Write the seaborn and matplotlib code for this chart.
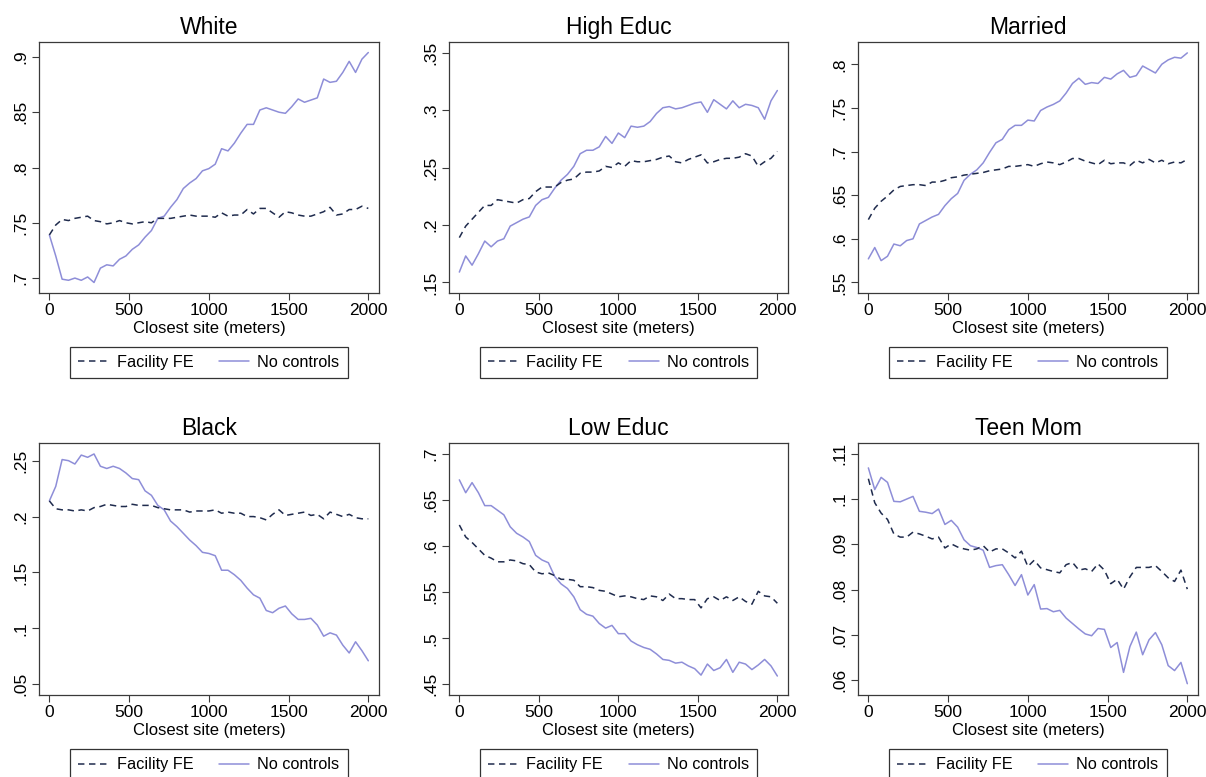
import numpy as np
import pandas as pd
import matplotlib
matplotlib.use("Agg")
import matplotlib.pyplot as plt
import seaborn as sns
from matplotlib.lines import Line2D

# ---------------- data ----------------
distance = [0, 40, 80, 120, 160, 200, 240, 280, 320, 360,
            400, 440, 480, 520, 560, 600, 640, 680, 720, 760,
            800, 840, 880, 920, 960, 1000, 1040, 1080, 1120, 1160,
            1200, 1240, 1280, 1320, 1360, 1400, 1440, 1480, 1520, 1560,
            1600, 1640, 1680, 1720, 1760, 1800, 1840, 1880, 1920, 1960,
            2000]

titles = ["White", "High Educ", "Married", "Black", "Low Educ", "Teen Mom"]
series_names = ["Facility FE", "No controls"]

white_fe = [0.739, 0.748, 0.753, 0.752, 0.754, 0.755, 0.756, 0.752, 0.751, 0.749,
            0.750, 0.752, 0.750, 0.749, 0.750, 0.751, 0.750, 0.754, 0.754, 0.754,
            0.755, 0.756, 0.757, 0.756, 0.756, 0.756, 0.755, 0.759, 0.756, 0.757,
            0.757, 0.762, 0.758, 0.763, 0.763, 0.759, 0.755, 0.760, 0.759, 0.757,
            0.756, 0.756, 0.758, 0.760, 0.764, 0.757, 0.758, 0.762, 0.762, 0.765,
            0.763]
white_nc = [0.739, 0.720, 0.699, 0.698, 0.700, 0.698, 0.701, 0.696, 0.709, 0.712,
            0.711, 0.717, 0.720, 0.726, 0.730, 0.737, 0.743, 0.754, 0.756, 0.764,
            0.771, 0.781, 0.786, 0.790, 0.797, 0.799, 0.803, 0.817, 0.815, 0.822,
            0.831, 0.839, 0.839, 0.852, 0.854, 0.852, 0.850, 0.849, 0.855, 0.862,
            0.859, 0.861, 0.863, 0.880, 0.877, 0.878, 0.886, 0.896, 0.886, 0.898,
            0.904]

high_fe = [0.189, 0.199, 0.205, 0.211, 0.217, 0.217, 0.222, 0.221, 0.220, 0.219,
           0.222, 0.223, 0.229, 0.233, 0.233, 0.233, 0.237, 0.239, 0.240, 0.245,
           0.246, 0.246, 0.247, 0.251, 0.250, 0.254, 0.251, 0.256, 0.255, 0.255,
           0.256, 0.257, 0.259, 0.260, 0.255, 0.254, 0.257, 0.259, 0.261, 0.254,
           0.255, 0.257, 0.258, 0.258, 0.259, 0.262, 0.260, 0.251, 0.255, 0.258,
           0.264]
high_nc = [0.159, 0.173, 0.165, 0.175, 0.186, 0.181, 0.186, 0.188, 0.199, 0.202,
           0.205, 0.207, 0.217, 0.222, 0.224, 0.232, 0.239, 0.244, 0.251, 0.262,
           0.265, 0.265, 0.268, 0.277, 0.271, 0.280, 0.276, 0.286, 0.285, 0.286,
           0.290, 0.297, 0.302, 0.303, 0.301, 0.302, 0.304, 0.306, 0.307, 0.298,
           0.309, 0.305, 0.301, 0.308, 0.302, 0.305, 0.304, 0.302, 0.292, 0.308,
           0.317]

married_fe = [0.622, 0.635, 0.643, 0.649, 0.656, 0.660, 0.661, 0.662, 0.662, 0.661,
              0.665, 0.665, 0.667, 0.670, 0.671, 0.673, 0.674, 0.675, 0.676, 0.678,
              0.679, 0.680, 0.683, 0.683, 0.684, 0.685, 0.683, 0.686, 0.688, 0.687,
              0.685, 0.688, 0.692, 0.692, 0.689, 0.687, 0.685, 0.690, 0.686, 0.687,
              0.687, 0.684, 0.690, 0.687, 0.691, 0.687, 0.690, 0.686, 0.688, 0.687,
              0.691]
married_nc = [0.577, 0.590, 0.575, 0.580, 0.594, 0.592, 0.598, 0.600, 0.617, 0.621,
              0.625, 0.628, 0.638, 0.646, 0.652, 0.667, 0.674, 0.679, 0.687, 0.699,
              0.710, 0.714, 0.725, 0.730, 0.730, 0.736, 0.735, 0.747, 0.751, 0.754,
              0.758, 0.767, 0.778, 0.784, 0.777, 0.779, 0.778, 0.785, 0.783, 0.789,
              0.793, 0.785, 0.787, 0.798, 0.794, 0.790, 0.800, 0.805, 0.808, 0.807,
              0.813]

black_fe = [0.214, 0.207, 0.206, 0.206, 0.205, 0.206, 0.205, 0.208, 0.209, 0.211,
            0.210, 0.209, 0.209, 0.211, 0.210, 0.210, 0.210, 0.208, 0.207, 0.206,
            0.206, 0.206, 0.204, 0.205, 0.205, 0.205, 0.206, 0.203, 0.204, 0.203,
            0.203, 0.200, 0.200, 0.199, 0.197, 0.202, 0.206, 0.201, 0.202, 0.203,
            0.204, 0.201, 0.202, 0.198, 0.204, 0.202, 0.200, 0.202, 0.199, 0.198,
            0.198]
black_nc = [0.214, 0.227, 0.251, 0.250, 0.247, 0.255, 0.253, 0.256, 0.245, 0.243,
            0.245, 0.243, 0.239, 0.234, 0.233, 0.223, 0.219, 0.210, 0.206, 0.196,
            0.191, 0.185, 0.179, 0.174, 0.168, 0.167, 0.165, 0.152, 0.152, 0.148,
            0.143, 0.136, 0.130, 0.127, 0.116, 0.114, 0.118, 0.120, 0.113, 0.108,
            0.108, 0.109, 0.103, 0.093, 0.096, 0.094, 0.085, 0.078, 0.088, 0.080,
            0.071]

low_fe = [0.623, 0.610, 0.604, 0.597, 0.590, 0.587, 0.583, 0.583, 0.585, 0.584,
          0.581, 0.580, 0.572, 0.570, 0.571, 0.568, 0.564, 0.564, 0.563, 0.556,
          0.556, 0.555, 0.552, 0.551, 0.548, 0.545, 0.546, 0.545, 0.543, 0.542,
          0.546, 0.545, 0.541, 0.548, 0.543, 0.543, 0.542, 0.542, 0.533, 0.543,
          0.545, 0.541, 0.545, 0.541, 0.545, 0.540, 0.537, 0.551, 0.546, 0.545,
          0.538]
low_nc = [0.672, 0.658, 0.669, 0.658, 0.644, 0.644, 0.639, 0.634, 0.621, 0.614,
          0.610, 0.605, 0.590, 0.585, 0.582, 0.567, 0.559, 0.554, 0.545, 0.531,
          0.526, 0.524, 0.516, 0.511, 0.514, 0.505, 0.505, 0.497, 0.493, 0.490,
          0.488, 0.483, 0.477, 0.476, 0.473, 0.474, 0.470, 0.467, 0.460, 0.472,
          0.465, 0.468, 0.477, 0.463, 0.474, 0.472, 0.466, 0.471, 0.477, 0.470,
          0.459]

teen_fe = [0.1045, 0.0992, 0.0969, 0.0955, 0.0923, 0.0916, 0.0916, 0.0927, 0.0923, 0.0918,
           0.0912, 0.0916, 0.0892, 0.0901, 0.0894, 0.0890, 0.0887, 0.0890, 0.0897, 0.0883,
           0.0890, 0.0890, 0.0881, 0.0870, 0.0885, 0.0851, 0.0865, 0.0848, 0.0844, 0.0840,
           0.0837, 0.0855, 0.0860, 0.0843, 0.0846, 0.0840, 0.0857, 0.0843, 0.0813, 0.0823,
           0.0801, 0.0828, 0.0849, 0.0849, 0.0849, 0.0853, 0.0840, 0.0826, 0.0818, 0.0843,
           0.0801]
teen_nc = [0.1069, 0.1021, 0.1048, 0.1037, 0.0995, 0.0994, 0.1000, 0.1006, 0.0973, 0.0971,
           0.0968, 0.0978, 0.0944, 0.0953, 0.0938, 0.0910, 0.0897, 0.0893, 0.0887, 0.0849,
           0.0853, 0.0855, 0.0833, 0.0809, 0.0833, 0.0788, 0.0811, 0.0757, 0.0758, 0.0751,
           0.0754, 0.0737, 0.0725, 0.0713, 0.0702, 0.0698, 0.0714, 0.0712, 0.0672, 0.0683,
           0.0617, 0.0674, 0.0706, 0.0656, 0.0689, 0.0705, 0.0678, 0.0632, 0.0621, 0.0639,
           0.0592]

xticks = [0, 500, 1000, 1500, 2000]
white_yticks = [0.70, 0.75, 0.80, 0.85, 0.90]
white_ylabels = [".7", ".75", ".8", ".85", ".9"]
high_yticks = [0.15, 0.20, 0.25, 0.30, 0.35]
high_ylabels = [".15", ".2", ".25", ".3", ".35"]
married_yticks = [0.55, 0.60, 0.65, 0.70, 0.75, 0.80]
married_ylabels = [".55", ".6", ".65", ".7", ".75", ".8"]
black_yticks = [0.05, 0.10, 0.15, 0.20, 0.25]
black_ylabels = [".05", ".1", ".15", ".2", ".25"]
low_yticks = [0.45, 0.50, 0.55, 0.60, 0.65, 0.70]
low_ylabels = [".45", ".5", ".55", ".6", ".65", ".7"]
teen_yticks = [0.06, 0.07, 0.08, 0.09, 0.10, 0.11]
teen_ylabels = [".06", ".07", ".08", ".09", ".1", ".11"]

# ---------------- styling ----------------
sns.set_style("white")
plt.rcParams["font.family"] = ["Liberation Sans", "DejaVu Sans"]
plt.rcParams["text.color"] = "black"
plt.rcParams["axes.labelcolor"] = "black"
plt.rcParams["xtick.color"] = "black"
plt.rcParams["ytick.color"] = "black"

FE_COLOR = "#1f2b4d"
NC_COLOR = "#8e8ed8"
SPINE = "#3a3a3a"

panels = [
    (white_fe, white_nc, white_yticks, white_ylabels, (0.6865, 0.9135)),
    (high_fe, high_nc, high_yticks, high_ylabels, (0.1408, 0.3592)),
    (married_fe, married_nc, married_yticks, married_ylabels, (0.5379, 0.8255)),
    (black_fe, black_nc, black_yticks, black_ylabels, (0.0404, 0.2658)),
    (low_fe, low_nc, low_yticks, low_ylabels, (0.4384, 0.7120)),
    (teen_fe, teen_nc, teen_yticks, teen_ylabels, (0.0567, 0.1124)),
]

W, H = 1206, 777
fig = plt.figure(figsize=(W / 100, H / 100), dpi=100)
fig.patch.set_facecolor("white")

col_left = [39, 449, 858]
col_width = [340, 339, 340]
row_top = [42, 443]
row_height = [251, 252]

for k, (fe, nc, yt, yl, ylim) in enumerate(panels):
    r, c = divmod(k, 3)
    left = col_left[c] / W
    bottom = 1 - (row_top[r] + row_height[r]) / H
    ax = fig.add_axes([left, bottom, col_width[c] / W, row_height[r] / H])

    df = pd.DataFrame({
        "distance": distance * 2,
        "value": list(fe) + list(nc),
        "model": [series_names[0]] * len(distance) + [series_names[1]] * len(distance),
    })
    sns.lineplot(data=df[df["model"] == series_names[1]], x="distance", y="value",
                 color=NC_COLOR, linewidth=1.1, ax=ax, legend=False)
    sns.lineplot(data=df[df["model"] == series_names[0]], x="distance", y="value",
                 color=FE_COLOR, linewidth=1.1, ax=ax, legend=False,
                 linestyle=(0, (4.2, 3.0)))

    ax.set_xlim(-65, 2067)
    ax.set_ylim(*ylim)
    ax.set_xticks(xticks)
    ax.set_xticklabels([str(v) for v in xticks], fontsize=12.5)
    ax.set_yticks(yt)
    ax.set_yticklabels(yl, fontsize=12.5, rotation=90, va="center")
    ax.tick_params(axis="both", direction="out", length=5, width=0.8,
                   color=SPINE, pad=2.5, left=True, bottom=True)
    ax.set_xlabel("Closest site (meters)", fontsize=12, labelpad=2)
    ax.set_ylabel("")
    ax.set_title(titles[k], fontsize=16.5, pad=6)
    for sp in ax.spines.values():
        sp.set_visible(True)
        sp.set_color(SPINE)
        sp.set_linewidth(0.9)
    ax.set_facecolor("white")
    ax.grid(False)

    handles = [Line2D([0], [0], color=FE_COLOR, lw=1.1, linestyle=(0, (4.2, 3.0))),
               Line2D([0], [0], color=NC_COLOR, lw=1.1)]
    leg = ax.legend(handles, series_names, loc="center", bbox_to_anchor=(0.5, -0.277),
                    ncol=2, frameon=True, fancybox=False, fontsize=11.7,
                    handlelength=1.85, columnspacing=1.6, handletextpad=0.5,
                    borderpad=0.5, edgecolor="black")
    leg.get_frame().set_linewidth(0.9)

fig.savefig("out.png", dpi=100, facecolor="white")
